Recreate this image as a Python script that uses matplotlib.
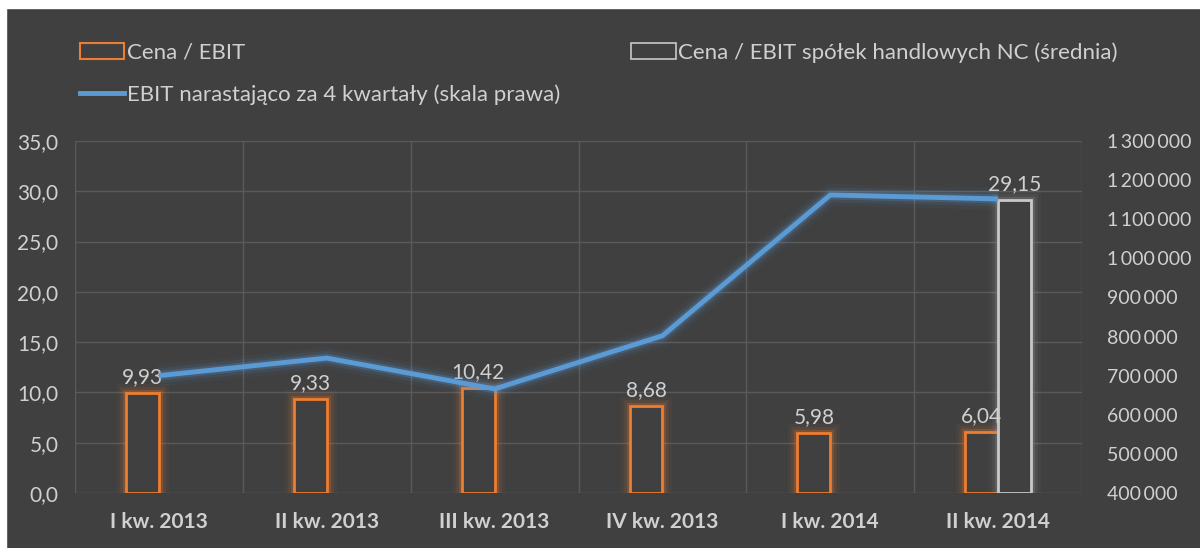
import numpy as np
import matplotlib.pyplot as plt
import matplotlib as mpl
import matplotlib.patheffects as pe
from matplotlib.patches import Patch, Rectangle
from matplotlib.lines import Line2D
from matplotlib.ticker import FuncFormatter, MultipleLocator

# dane
kwartaly = ['I kw. 2013', 'II kw. 2013', 'III kw. 2013', 'IV kw. 2013', 'I kw. 2014', 'II kw. 2014']
cena_ebit = [9.93, 9.33, 10.42, 8.68, 5.98, 6.04]
cena_ebit_nc = [0, 0, 0, 0, 0, 29.15]
ebit_4kw = [700000, 745000, 666000, 802000, 1162000, 1152000]

BG = '#404040'
TXT = '#d0d0d0'
ORANGE = '#ed7d31'
BLUE = '#5b9bd5'
GRAY = '#c8c8c8'
GRID = '#5a5a5a'

mpl.rcParams['font.family'] = ['Lato', 'DejaVu Sans']
mpl.rcParams['font.size'] = 15

fig = plt.figure(figsize=(12, 5.48), dpi=100, facecolor=BG)
# biała ramka u góry i z lewej
fig.patches.append(Rectangle((0, 0.985), 1, 0.015, transform=fig.transFigure, color='white', zorder=0))
fig.patches.append(Rectangle((0, 0), 0.005, 1, transform=fig.transFigure, color='white', zorder=0))

ax = fig.add_axes([0.0625, 0.1004, 0.8392, 0.6423])
ax.set_facecolor(BG)
x = np.arange(len(kwartaly))
w = 0.196

def glow(color, base, a=1.0):
    return [pe.Stroke(linewidth=base + 12, foreground=color, alpha=0.05 * a),
            pe.Stroke(linewidth=base + 7, foreground=color, alpha=0.10 * a),
            pe.Stroke(linewidth=base + 3, foreground=color, alpha=0.22 * a),
            pe.Normal()]

b1 = ax.bar(x - w / 2, cena_ebit, w, facecolor=BG, edgecolor=ORANGE, linewidth=2, zorder=3)
for b in b1:
    b.set_path_effects(glow(ORANGE, 2))
b2 = ax.bar(x + w / 2, cena_ebit_nc, w, facecolor=BG, edgecolor=GRAY, linewidth=2, zorder=3)
for b, v in zip(b2, cena_ebit_nc):
    if v == 0:
        b.set_visible(False)
    else:
        b.set_path_effects(glow('#a0a0a0', 2))

for xi, v in zip(x, cena_ebit):
    ax.text(xi - w / 2, v + 0.6, f'{v:.2f}'.replace('.', ','), ha='center', va='bottom',
            color=TXT, fontsize=15, zorder=5)
for xi, v in zip(x, cena_ebit_nc):
    if v:
        ax.text(xi + w / 2, v + 0.6, f'{v:.2f}'.replace('.', ','), ha='center', va='bottom',
                color=TXT, fontsize=15, zorder=5)

ax.set_xlim(-0.5, 5.5)
ax.set_ylim(0, 35)
ax.yaxis.set_major_locator(MultipleLocator(5))
ax.yaxis.set_major_formatter(FuncFormatter(lambda v, p: f'{v:.1f}'.replace('.', ',')))
ax.set_xticks(x)
ax.set_xticklabels(kwartaly, fontweight='bold')
ax.tick_params(axis='x', length=0, pad=14, colors=TXT)
ax.tick_params(axis='y', length=0, pad=12, colors=TXT)
for s in ax.spines.values():
    s.set_visible(False)
for yv in np.arange(0, 36, 5):
    ax.axhline(yv, color=GRID, lw=1, zorder=1)
for xv in np.arange(-0.5, 6, 1):
    ax.axvline(xv, color=GRID, lw=1, zorder=1)

ax2 = ax.twinx()
ax2.set_ylim(400000, 1300000)
ax2.yaxis.set_major_locator(MultipleLocator(100000))
ax2.yaxis.set_major_formatter(FuncFormatter(lambda v, p: f'{int(v):,}'.replace(',', '\u2009')))
ax2.tick_params(axis='y', length=0, pad=18, colors=TXT, labelsize=14)
for s in ax2.spines.values():
    s.set_visible(False)
ln, = ax2.plot(x, ebit_4kw, color=BLUE, lw=3.5, solid_capstyle='butt', zorder=4)
ln.set_path_effects(glow(BLUE, 3.5))

handles = [Patch(facecolor=BG, edgecolor=ORANGE, linewidth=1.5, label='Cena / EBIT'),
           Line2D([], [], color=BLUE, lw=3.5, label='EBIT narastająco za 4 kwartały (skala prawa)'),
           Patch(facecolor=BG, edgecolor=GRAY, linewidth=1.2, label='Cena / EBIT spółek handlowych NC (średnia)')]
leg = fig.legend(handles=handles, loc='upper left', bbox_to_anchor=(0.061, 0.935), ncol=2,
                 frameon=False, handlelength=2.0, handleheight=0.7, handletextpad=0.12,
                 columnspacing=3.2, labelspacing=0.95, fontsize=16, labelcolor=TXT,
                 borderaxespad=0, borderpad=0.3)

fig.savefig('out.png', dpi=100, facecolor=BG)
